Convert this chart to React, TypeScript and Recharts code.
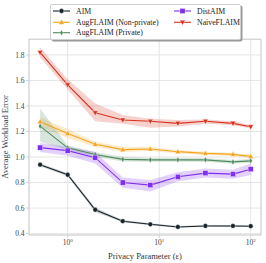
import React from "react";
import { ComposedChart, Line, Area, XAxis, YAxis, CartesianGrid } from "recharts";

const epsilons = [0.5, 1, 2, 4, 8, 16, 32, 64, 100];

const aim = [0.94, 0.861, 0.587, 0.497, 0.473, 0.452, 0.46, 0.46, 0.458];
const aimLo = [0.928, 0.85, 0.57, 0.488, 0.465, 0.445, 0.453, 0.453, 0.451];
const aimHi = [0.952, 0.872, 0.603, 0.506, 0.481, 0.459, 0.467, 0.467, 0.465];

const distAim = [1.074, 1.05, 0.995, 0.8, 0.78, 0.845, 0.874, 0.866, 0.905];
const distAimLo = [1.04, 1.01, 0.95, 0.76, 0.73, 0.81, 0.84, 0.83, 0.86];
const distAimHi = [1.11, 1.08, 1.04, 0.84, 0.82, 0.88, 0.91, 0.9, 0.95];

const augPriv = [1.242, 1.072, 1.02, 0.982, 0.978, 0.978, 0.978, 0.962, 0.97];
const augPrivLo = [1.12, 1.055, 1.0, 0.965, 0.963, 0.963, 0.963, 0.947, 0.955];
const augPrivHi = [1.38, 1.09, 1.04, 1.0, 0.993, 0.993, 0.993, 0.977, 0.985];

const augNonPriv = [1.277, 1.185, 1.1, 1.058, 1.063, 1.042, 1.029, 1.021, 1.005];
const augNonPrivLo = [1.24, 1.15, 1.08, 1.04, 1.048, 1.028, 1.016, 1.008, 0.992];
const augNonPrivHi = [1.31, 1.22, 1.12, 1.08, 1.078, 1.056, 1.042, 1.034, 1.018];

const naive = [1.82, 1.566, 1.347, 1.29, 1.28, 1.264, 1.28, 1.264, 1.237];
const naiveLo = [1.78, 1.53, 1.28, 1.26, 1.23, 1.24, 1.26, 1.25, 1.225];
const naiveHi = [1.86, 1.61, 1.42, 1.33, 1.3, 1.29, 1.295, 1.28, 1.25];

const yTicks = [0.4, 0.6, 0.8, 1.0, 1.2, 1.4, 1.6, 1.8];
const xTicks = [1, 10, 100];
const xTickExponents = ["0", "1", "2"];

const seriesNames = ["AIM", "AugFLAIM (Non-private)", "AugFLAIM (Private)", "DistAIM", "NaiveFLAIM"];
const xLabel = "Privacy Parameter (\u03b5)";
const yLabel = "Average Workload Error";

const COLORS = {
  aim: "#17232b",
  augNonPriv: "#f5a31a",
  augPriv: "#4f8a5f",
  distAim: "#7f2ff0",
  naive: "#d8321e",
};

const FONT = "'Liberation Serif', 'DejaVu Serif', serif";

const data = epsilons.map((e, i) => ({
  eps: e,
  aim: aim[i],
  aimBand: [aimLo[i], aimHi[i]],
  distAim: distAim[i],
  distAimBand: [distAimLo[i], distAimHi[i]],
  augPriv: augPriv[i],
  augPrivBand: [augPrivLo[i], augPrivHi[i]],
  augNonPriv: augNonPriv[i],
  augNonPrivBand: [augNonPrivLo[i], augNonPrivHi[i]],
  naive: naive[i],
  naiveBand: [naiveLo[i], naiveHi[i]],
}));

type Shape = "circle" | "up" | "down" | "square" | "diamond";

function Marker({ cx, cy, shape, color }: { cx: number; cy: number; shape: Shape; color: string }) {
  if (cx == null || cy == null) return null;
  const s = 2.6;
  switch (shape) {
    case "circle":
      return <circle cx={cx} cy={cy} r={2.4} fill={color} stroke="#fff" strokeWidth={0.4} />;
    case "square":
      return <rect x={cx - s} y={cy - s} width={2 * s} height={2 * s} fill={color} stroke="#fff" strokeWidth={0.4} />;
    case "up":
      return (
        <polygon
          points={`${cx},${cy - 3} ${cx - 2.8},${cy + 2} ${cx + 2.8},${cy + 2}`}
          fill={color}
          stroke="#fff"
          strokeWidth={0.4}
        />
      );
    case "down":
      return (
        <polygon
          points={`${cx},${cy + 3} ${cx - 2.8},${cy - 2} ${cx + 2.8},${cy - 2}`}
          fill={color}
          stroke="#fff"
          strokeWidth={0.4}
        />
      );
    case "diamond":
      return (
        <polygon
          points={`${cx},${cy - 2.8} ${cx - 1.6},${cy} ${cx},${cy + 2.8} ${cx + 1.6},${cy}`}
          fill={color}
          stroke="#fff"
          strokeWidth={0.3}
        />
      );
  }
  return null;
}

const mkDot = (shape: Shape, color: string) => (props: any) =>
  <Marker key={`${shape}-${props.index}`} cx={props.cx} cy={props.cy} shape={shape} color={color} />;

const XTick = (props: any) => {
  const { x, y, payload } = props;
  const idx = xTicks.indexOf(payload.value);
  return (
    <g>
      <text x={x} y={y + 5} textAnchor="middle" fontFamily={FONT} fontSize={7.5} fill="#444">
        10
        <tspan dy={-3} fontSize={5}>
          {xTickExponents[idx]}
        </tspan>
      </text>
    </g>
  );
};

const YTick = (props: any) => {
  const { x, y, payload } = props;
  return (
    <g>
      <text x={x + 0.5} y={y + 2.6} textAnchor="end" fontFamily={FONT} fontSize={7.5} fill="#444">
        {payload.value.toFixed(1)}
      </text>
    </g>
  );
};

const legendItems: { name: string; color: string; shape: Shape }[] = [
  { name: seriesNames[0], color: COLORS.aim, shape: "circle" },
  { name: seriesNames[1], color: COLORS.augNonPriv, shape: "up" },
  { name: seriesNames[2], color: COLORS.augPriv, shape: "diamond" },
  { name: seriesNames[3], color: COLORS.distAim, shape: "square" },
  { name: seriesNames[4], color: COLORS.naive, shape: "down" },
];

function LegendBox() {
  const positions = [
    { lx: 3, ty: 7 },
    { lx: 3, ty: 18.3 },
    { lx: 3, ty: 28.7 },
    { lx: 124, ty: 7 },
    { lx: 124, ty: 18.3 },
  ];
  return (
    <div
      style={{
        position: "absolute",
        left: 50,
        top: 4,
        width: 191,
        height: 36,
        background: "#fff",
        border: "0.8px solid #d0d0d0",
        borderRadius: 2,
        boxShadow: "1.5px 1.5px 0 #9a9a9a",
        boxSizing: "border-box",
      }}
    >
      <svg width={191} height={36} style={{ position: "absolute", left: -0.8, top: -0.8 }}>
        {legendItems.map((it, i) => {
          const p = positions[i];
          return (
            <g key={it.name}>
              <line x1={p.lx} x2={p.lx + 17} y1={p.ty} y2={p.ty} stroke={it.color} strokeWidth={1.1} />
              <Marker cx={p.lx + 8.5} cy={p.ty} shape={it.shape} color={it.color} />
              <text x={p.lx + 23} y={p.ty + 2.7} fontFamily={FONT} fontSize={7.8} fill="#222">
                {it.name}
              </text>
            </g>
          );
        })}
      </svg>
    </div>
  );
}

const bandKeys: [string, string][] = [
  ["aimBand", COLORS.aim],
  ["augNonPrivBand", COLORS.augNonPriv],
  ["augPrivBand", COLORS.augPriv],
  ["distAimBand", COLORS.distAim],
  ["naiveBand", COLORS.naive],
];

const lineKeys: [string, string, Shape, string][] = [
  ["aim", COLORS.aim, "circle", seriesNames[0]],
  ["augNonPriv", COLORS.augNonPriv, "up", seriesNames[1]],
  ["augPriv", COLORS.augPriv, "diamond", seriesNames[2]],
  ["distAim", COLORS.distAim, "square", seriesNames[3]],
  ["naive", COLORS.naive, "down", seriesNames[4]],
];

export default function App() {
  return (
    <div style={{ position: "absolute", left: 0, top: 0, width: 266, height: 263, background: "#fff" }}>
      <ComposedChart
        width={266}
        height={263}
        data={data}
        margin={{ top: 39, right: 5, bottom: 0, left: 0 }}
      >
        <CartesianGrid stroke="#dedede" strokeWidth={0.8} />
        <XAxis
          dataKey="eps"
          type="number"
          scale="log"
          domain={[0.378, 129.6]}
          ticks={xTicks}
          height={28}
          tickLine={{ stroke: "#c8c8c8", strokeWidth: 0.8 }}
          tickSize={3}
          axisLine={{ stroke: "#c8c8c8", strokeWidth: 0.8 }}
          tick={<XTick />}
          allowDataOverflow
          label={{
            value: xLabel,
            position: "insideBottom",
            offset: 4,
            style: { fontFamily: FONT, fontSize: 8.5, fill: "#333" },
          }}
        />
        <YAxis
          type="number"
          domain={[0.389, 1.925]}
          ticks={yTicks}
          width={29}
          tickLine={{ stroke: "#c8c8c8", strokeWidth: 0.8 }}
          tickSize={3}
          axisLine={{ stroke: "#c8c8c8", strokeWidth: 0.8 }}
          tick={<YTick />}
          allowDataOverflow
          label={{
            value: yLabel,
            angle: -90,
            position: "insideLeft",
            offset: 5,
            style: { fontFamily: FONT, fontSize: 8.5, fill: "#333", textAnchor: "middle" },
          }}
        />
        {bandKeys.map(([k, c]) => (
          <Area
            key={k}
            dataKey={k}
            type="linear"
            stroke="none"
            fill={c}
            fillOpacity={0.22}
            isAnimationActive={false}
            activeDot={false}
          />
        ))}
        {lineKeys.map(([k, c, shape, name]) => (
          <Line
            key={k}
            dataKey={k}
            name={name}
            type="linear"
            stroke={c}
            strokeWidth={1.1}
            dot={mkDot(shape, c)}
            activeDot={false}
            isAnimationActive={false}
          />
        ))}
      </ComposedChart>
      <svg
        width={266}
        height={263}
        style={{ position: "absolute", left: 0, top: 0, pointerEvents: "none" }}
      >
        <line x1={261} x2={261} y1={39.3} y2={234.7} stroke="#c8c8c8" strokeWidth={0.8} />
        <line x1={29} x2={261} y1={39.3} y2={39.3} stroke="#c8c8c8" strokeWidth={0.8} />
      </svg>
      <LegendBox />
    </div>
  );
}
